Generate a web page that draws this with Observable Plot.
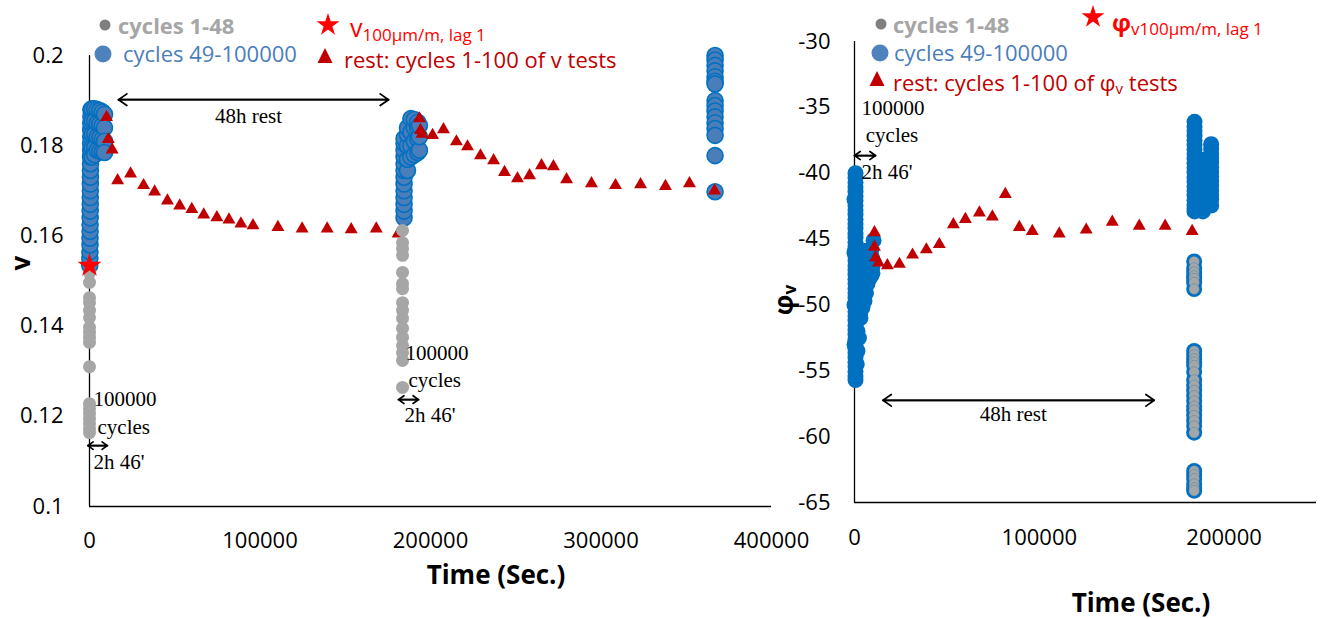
<!DOCTYPE html>
<html><head><meta charset="utf-8">
<script src="https://cdn.jsdelivr.net/npm/d3@7"></script>
<script src="https://cdn.jsdelivr.net/npm/@observablehq/plot@0.6"></script>
<style>
html,body{margin:0;padding:0;background:#fff;}
#wrap{position:relative;width:1325px;height:619px;overflow:hidden;background:#fff;}
#wrap > svg{position:absolute;left:0;top:0;}
</style></head><body><div id="wrap"></div>
<script>
// ---------- axis ticks ----------
const vTimeTicks = [0, 100000, 200000, 300000, 400000];
const vTicks = [0.1, 0.12, 0.14, 0.16, 0.18, 0.2];
const phiTimeTicks = [0, 100000, 200000];
const phiTicks = [-65, -60, -55, -50, -45, -40, -35, -30];

// ---------- left panel: v  ([time s, v]) ----------
const vCycles1to48 = [
  [2,0.1518],[3,0.1497],[4,0.1463],[2,0.1452],[3,0.1435],[4,0.1419],[2,0.1397],[3,0.1386],[4,0.1375],[5,0.1364],
  [3,0.1310],[2,0.1228],[3,0.1217],[4,0.1206],[2,0.1195],[3,0.1184],[4,0.1173],[5,0.1164],
  [183600,0.1612],[183600,0.1585],[183600,0.1572],[183600,0.1557],[183600,0.1519],[183600,0.1494],[183600,0.1483],
  [183600,0.1452],[183600,0.1435],[183600,0.1417],[183600,0.1395],[183600,0.1375],[183600,0.1357],[183600,0.1341],
  [183600,0.1324],[183600,0.1264]
];
const vCycles49to100000 = [
  [150,0.1535],[200,0.1550],[250,0.1565],[300,0.1580],[300,0.1595],[350,0.1610],[350,0.1625],[400,0.1640],
  [400,0.1655],[450,0.1670],[450,0.1685],[500,0.1700],[500,0.1715],[550,0.1730],[550,0.1745],[600,0.1760],
  [600,0.1775],[650,0.1790],[650,0.1805],[700,0.1820],[700,0.1835],[750,0.1850],[800,0.1865],[800,0.1880],
  [1500,0.1882],[1500,0.1855],[1500,0.1825],[1500,0.1795],[1500,0.1775],
  [3000,0.1882],[3000,0.1855],[3000,0.1825],[3000,0.1795],[3000,0.1780],
  [4500,0.1880],[4500,0.1850],[4500,0.1820],[4500,0.1790],
  [6000,0.1878],[6000,0.1848],[6000,0.1818],[6000,0.1788],
  [7500,0.1875],[7500,0.1845],[7500,0.1815],[7500,0.1787],
  [8800,0.1870],[8800,0.1840],[8800,0.1810],[8800,0.1785],
  [184500,0.1640],[184500,0.1655],[184500,0.1670],[184500,0.1685],[184500,0.1700],[184500,0.1715],[184500,0.1730],
  [184500,0.1745],[184500,0.1760],[184500,0.1775],[184500,0.1790],[184500,0.1805],[184500,0.1816],
  [186500,0.1745],[186500,0.1770],[186500,0.1800],[186500,0.1825],[186500,0.1840],
  [188500,0.1775],[188500,0.1800],[188500,0.1830],[188500,0.1860],
  [190500,0.1780],[190500,0.1810],[190500,0.1840],[190500,0.1858],
  [192500,0.1785],[192500,0.1815],[192500,0.1840],[192500,0.1852],
  [193500,0.1790],[193500,0.1820],[193500,0.1845],
  [366900,0.2000],[366900,0.1990],[366900,0.1978],[366900,0.1966],[366900,0.1953],[366900,0.1943],[366900,0.1937],
  [366900,0.1900],[366900,0.1889],[366900,0.1877],[366900,0.1864],[366900,0.1851],[366900,0.1838],[366900,0.1823],
  [366900,0.1778],[366900,0.1698]
];
const vRest = [
  [10000,0.1863],[11000,0.1814],[13300,0.1791],[16500,0.1723],[24100,0.1738],[31700,0.1712],[38200,0.1698],
  [45700,0.1678],[52900,0.1667],[60000,0.1659],[67000,0.1647],[74700,0.1641],[81800,0.1636],[88800,0.1627],
  [95900,0.1623],[110500,0.1619],[124700,0.1616],[139400,0.1616],[153500,0.1614],[168200,0.1616],[181000,0.1605],
  [193500,0.1860],[194100,0.1834],[195000,0.1826],[201200,0.1823],[207600,0.1836],[215200,0.1809],[221700,0.1798],
  [229300,0.1778],[237000,0.1767],[243400,0.1741],[251000,0.1727],[258100,0.1734],[265100,0.1756],[272100,0.1754],
  [279800,0.1725],[294400,0.1716],[308500,0.1712],[323200,0.1714],[337800,0.1710],[351900,0.1716],[366600,0.1700]
];
const vLag1 = [[0,0.1534]];
const vSpans = [[17000,175400,0.1902],[-1000,10500,0.1135],[181200,193000,0.1237]];
const vCenterNotes = [[93300,0.1865,"48h rest"]];
const vNotes = [
  [2350,0.1237,"100000"],[4700,0.1175,"cycles"],[2350,0.1098,"2h 46'"],
  [185300,0.1339,"100000"],[187100,0.1279,"cycles"],[184700,0.1202,"2h 46'"]
];

// ---------- right panel: phi_v ([time s, phi]) ----------
const phiCycles1to48 = [
  [2,-42.0],[3,-46.0],[4,-50.0],[5,-53.0],
  [183800,-46.7],[183800,-47.2],[183800,-47.5],[183800,-47.8],[183800,-48.0],[183800,-48.3],[183800,-48.8],
  [183800,-53.5],[183800,-53.8],[183800,-54.1],[183800,-54.35],[183800,-54.6],[183800,-55.1],[183800,-55.7],
  [183800,-56.1],[183800,-56.5],[183800,-56.9],[183800,-57.3],[183800,-57.7],[183800,-58.0],[183800,-58.4],
  [183800,-58.8],[183800,-59.2],[183800,-59.7],
  [183800,-62.6],[183800,-62.9],[183800,-63.2],[183800,-63.6],[183800,-63.9],[183800,-64.1]
];
const phiCycles49to100000 = [
  [540,-40.0],[540,-40.35],[540,-40.7],[540,-41.05],[540,-41.4],[540,-41.75],[540,-42.1],[540,-42.45],[540,-42.8],
  [540,-43.15],[540,-43.5],[540,-43.85],[540,-44.2],[540,-44.55],[540,-44.9],[540,-45.25],[540,-45.6],[540,-45.95],
  [540,-46.3],[540,-46.65],[540,-47.0],[540,-47.35],[540,-47.7],[540,-48.05],[540,-48.4],[540,-48.75],[540,-49.1],
  [540,-49.45],[540,-49.8],[540,-50.15],[540,-50.5],[540,-50.85],[540,-51.2],[540,-51.55],[540,-51.9],[540,-52.25],
  [540,-52.6],[540,-52.95],[540,-53.3],[540,-53.65],[540,-54.0],[540,-54.35],[540,-54.7],[540,-55.05],[540,-55.4],
  [540,-55.7],
  [1200,-54.5],[1600,-46.0],[1600,-47.5],[1600,-49.0],[1600,-50.5],[1600,-52.0],[1600,-53.5],[2400,-52.5],
  [3200,-46.0],[3200,-47.5],[3200,-49.0],[3200,-50.5],[3200,-51.0],[4300,-50.2],
  [5400,-45.9],[5400,-47.1],[5400,-48.4],[5400,-49.7],[6200,-49.1],
  [7000,-45.9],[7000,-47.0],[7000,-48.4],[8000,-48.0],
  [9000,-45.9],[9000,-46.9],[9000,-47.8],
  [10300,-45.1],[9700,-46.5],[9700,-47.1],[9700,-47.6],
  [184000,-36.1],[184000,-36.45],[184000,-36.8],[184000,-37.15],[184000,-37.5],[184000,-37.85],[184000,-38.2],
  [184000,-38.55],[184000,-38.9],[184000,-39.25],[184000,-39.6],[184000,-39.95],[184000,-40.3],[184000,-40.65],
  [184000,-41.0],[184000,-41.35],[184000,-41.7],[184000,-42.05],[184000,-42.4],[184000,-42.7],[184000,-42.9],
  [188500,-39.0],[188500,-39.8],[188500,-40.6],[188500,-41.4],[188500,-42.2],[188500,-42.9],
  [193000,-37.8],[193000,-38.15],[193000,-38.5],[193000,-38.85],[193000,-39.2],[193000,-39.55],[193000,-39.9],
  [193000,-40.25],[193000,-40.6],[193000,-40.95],[193000,-41.3],[193000,-41.65],[193000,-42.0],[193000,-42.45]
];
const phiRest = [
  [10800,-44.5],[10800,-45.6],[11400,-46.4],[13000,-46.8],[17800,-47.0],[24300,-46.9],[31400,-46.2],[38900,-45.8],
  [45900,-45.4],[53500,-43.9],[60000,-43.5],[67600,-43.0],[74600,-43.3],[81600,-41.6],[89200,-44.1],[96200,-44.4],
  [110800,-44.6],[125400,-44.3],[139500,-43.7],[154100,-44.0],[168100,-44.0],[182700,-44.4]
];
const phiSpans = [[15400,162200,-57.24],[0,11400,-38.66]];
const phiCenterNotes = [[85900,-58.27,"48h rest"]];
const phiNotes = [[3800,-35.09,"100000"],[6100,-37.14,"cycles"],[3800,-39.95,"2h 46'"]];

// ---------- styling ----------
const W = 1325, H = 619;
const SANS = "'Open Sans', 'Liberation Sans', sans-serif";
const SERIF = "'Liberation Serif', 'Times New Roman', serif";
const BLUE = "#0070c0", BLUE_FILL = "#4a7ebb", GRAY = "#a6a6a6", DARKRED = "#c00000";
const fmt = d => String(d);
const X = d => d[0], Y = d => d[1];

function annotationMarks(spans, centerNotes, notes) {
  return [
    Plot.arrow(spans, {x1: d => d[1], x2: d => d[0], y1: d => d[2], y2: d => d[2],
      stroke: "#000", strokeWidth: 1.7, headLength: 9, headAngle: 70}),
    Plot.arrow(spans, {x1: d => d[0], x2: d => d[1], y1: d => d[2], y2: d => d[2],
      stroke: "#000", strokeWidth: 1.7, headLength: 9, headAngle: 70}),
    Plot.text(centerNotes, {x: X, y: Y, text: d => d[2], textAnchor: "middle",
      fontFamily: SERIF, fontSize: 21, fill: "#000"}),
    Plot.text(notes, {x: X, y: Y, text: d => d[2], textAnchor: "start",
      fontFamily: SERIF, fontSize: 21, fill: "#000"})
  ];
}

const left = Plot.plot({
  width: W, height: H,
  marginLeft: 89, marginRight: W - 771, marginTop: 55, marginBottom: H - 506,
  style: {fontFamily: SANS, fontSize: "22px", color: "#000", background: "transparent", overflow: "visible"},
  x: {domain: [0, 400000]},
  y: {domain: [0.1, 0.2]},
  marks: [
    Plot.axisX({ticks: vTimeTicks, tickFormat: fmt, tickSize: 0, tickPadding: 26, label: null, fontSize: 22, fill: "#000"}),
    Plot.axisY({ticks: vTicks, tickFormat: fmt, tickSize: 0, tickPadding: 26, label: null, fontSize: 22, fill: "#000"}),
    Plot.ruleX([0], {stroke: "#000", strokeWidth: 1.3}),
    Plot.ruleY([0.1], {stroke: "#000", strokeWidth: 1.3}),
    Plot.dot(vCycles49to100000, {x: X, y: Y, r: 8, fill: BLUE_FILL, stroke: BLUE, strokeWidth: 1.6}),
    Plot.dot(vRest, {x: X, y: Y, symbol: "triangle", r: 4.8, fill: DARKRED, stroke: "none"}),
    Plot.dot(vCycles1to48, {x: X, y: Y, r: 6.5, fill: GRAY, stroke: "none"}),
    Plot.dot(vLag1, {x: X, y: Y, symbol: "star", r: 7.5, fill: "#ff0000", stroke: "none"}),
    ...annotationMarks(vSpans, vCenterNotes, vNotes)
  ]
});

const right = Plot.plot({
  width: W, height: H,
  marginLeft: 854, marginRight: W - 1316, marginTop: 41, marginBottom: H - 502,
  style: {fontFamily: SANS, fontSize: "22px", color: "#000", background: "transparent", overflow: "visible"},
  x: {domain: [0, 250000]},
  y: {domain: [-65, -30]},
  marks: [
    Plot.axisX({ticks: phiTimeTicks, tickFormat: fmt, tickSize: 0, tickPadding: 27, label: null, fontSize: 22, fill: "#000"}),
    Plot.axisY({ticks: phiTicks, tickFormat: fmt, tickSize: 0, tickPadding: 24, label: null, fontSize: 22, fill: "#000"}),
    Plot.ruleX([0], {stroke: "#000", strokeWidth: 1.3}),
    Plot.ruleY([-65], {stroke: "#000", strokeWidth: 1.3}),
    // gray markers with blue outline: outline layer then fill layer
    Plot.dot(phiCycles1to48, {x: X, y: Y, r: 8, fill: BLUE, stroke: "none"}),
    Plot.dot(phiCycles1to48, {x: X, y: Y, r: 5.3, fill: GRAY, stroke: BLUE, strokeWidth: 0.6, strokeOpacity: 0.5}),
    Plot.dot(phiCycles49to100000, {x: X, y: Y, r: 8, fill: BLUE, stroke: "none"}),
    Plot.dot(phiRest, {x: X, y: Y, symbol: "triangle", r: 4.8, fill: DARKRED, stroke: "none"}),
    ...annotationMarks(phiSpans, phiCenterNotes, phiNotes)
  ]
});

// ---------- legends and axis titles (overlay) ----------
const ov = d3.create("svg").attr("width", W).attr("height", H).style("font-family", SANS);
const starPath = d3.symbol(d3.symbolStar, 162)();
function legend(g, o) {
  g.append("circle").attr("cx", o.grayX).attr("cy", o.grayY).attr("r", 5.5).attr("fill", "#7f7f7f");
  g.append("text").attr("x", o.grayTX).attr("y", o.grayY).attr("dominant-baseline", "central")
    .attr("font-size", 22).attr("font-weight", "bold").attr("fill", GRAY).text("cycles 1-48");
  g.append("circle").attr("cx", o.blueX).attr("cy", o.blueY).attr("r", 8.5).attr("fill", "#4f81bd");
  g.append("text").attr("x", o.blueTX).attr("y", o.blueY - 1).attr("dominant-baseline", "central")
    .attr("font-size", 22).attr("fill", BLUE_FILL).text("cycles 49-100000");
  g.append("path").attr("d", "M0,-8L7.5,7L-7.5,7Z").attr("transform", `translate(${o.triX},${o.triY})`).attr("fill", DARKRED);
  const t = g.append("text").attr("x", o.triTX).attr("y", o.triY + 3).attr("dominant-baseline", "central")
    .attr("font-size", 22).attr("fill", DARKRED);
  t.append("tspan").text(o.restPre);
  if (o.restSub) {
    t.append("tspan").attr("font-size", 15).attr("dy", 6).text(o.restSub);
    t.append("tspan").attr("dy", -6).text(o.restPost);
  }
  g.append("path").attr("d", starPath).attr("transform", `translate(${o.starX},${o.starY})`).attr("fill", "#ff0000");
  const s = g.append("text").attr("x", o.symTX).attr("y", o.symY).attr("dominant-baseline", "central")
    .attr("fill", "#ff0000");
  s.append("tspan").attr("font-size", o.symSize).attr("font-weight", o.symWeight).text(o.sym);
  s.append("tspan").attr("font-size", 17).attr("dy", 7).text(o.symSub);
}
legend(ov.append("g"), {
  grayX: 105, grayY: 25, grayTX: 118, blueX: 103, blueY: 54, blueTX: 123,
  triX: 325, triY: 56, triTX: 344, restPre: "rest: cycles 1-100 of v tests",
  starX: 328, starY: 25, symTX: 350, symY: 27, sym: "v", symSize: 25, symWeight: "normal",
  symSub: "100µm/m, lag 1"
});
legend(ov.append("g"), {
  grayX: 881, grayY: 24, grayTX: 893, blueX: 880, blueY: 53, blueTX: 894,
  triX: 877, triY: 79, triTX: 893, restPre: "rest: cycles 1-100 of φ", restSub: "v", restPost: " tests",
  starX: 1093, starY: 17, symTX: 1112, symY: 21, sym: "φ", symSize: 24, symWeight: "bold",
  symSub: "v100µm/m, lag 1"
});
// axis titles
ov.append("text").attr("x", 496).attr("y", 574).attr("text-anchor", "middle").attr("dominant-baseline", "central")
  .attr("font-size", 26).attr("font-weight", "bold").attr("fill", "#000").text("Time (Sec.)");
ov.append("text").attr("x", 1141).attr("y", 602).attr("text-anchor", "middle").attr("dominant-baseline", "central")
  .attr("font-size", 26).attr("font-weight", "bold").attr("fill", "#000").text("Time (Sec.)");
ov.append("text").attr("transform", "translate(20,263) rotate(-90)").attr("text-anchor", "middle")
  .attr("dominant-baseline", "central").attr("font-size", 26).attr("font-weight", "bold").attr("fill", "#000").text("v");
const phiLab = ov.append("text").attr("transform", "translate(783,300) rotate(-90)").attr("text-anchor", "middle")
  .attr("dominant-baseline", "central").attr("font-size", 26).attr("font-weight", "bold").attr("fill", "#000");
phiLab.append("tspan").text("φ");
phiLab.append("tspan").attr("font-size", 17).attr("dy", 6).text("v");

const wrap = document.getElementById("wrap");
wrap.append(left, right, ov.node());
</script></body></html>
